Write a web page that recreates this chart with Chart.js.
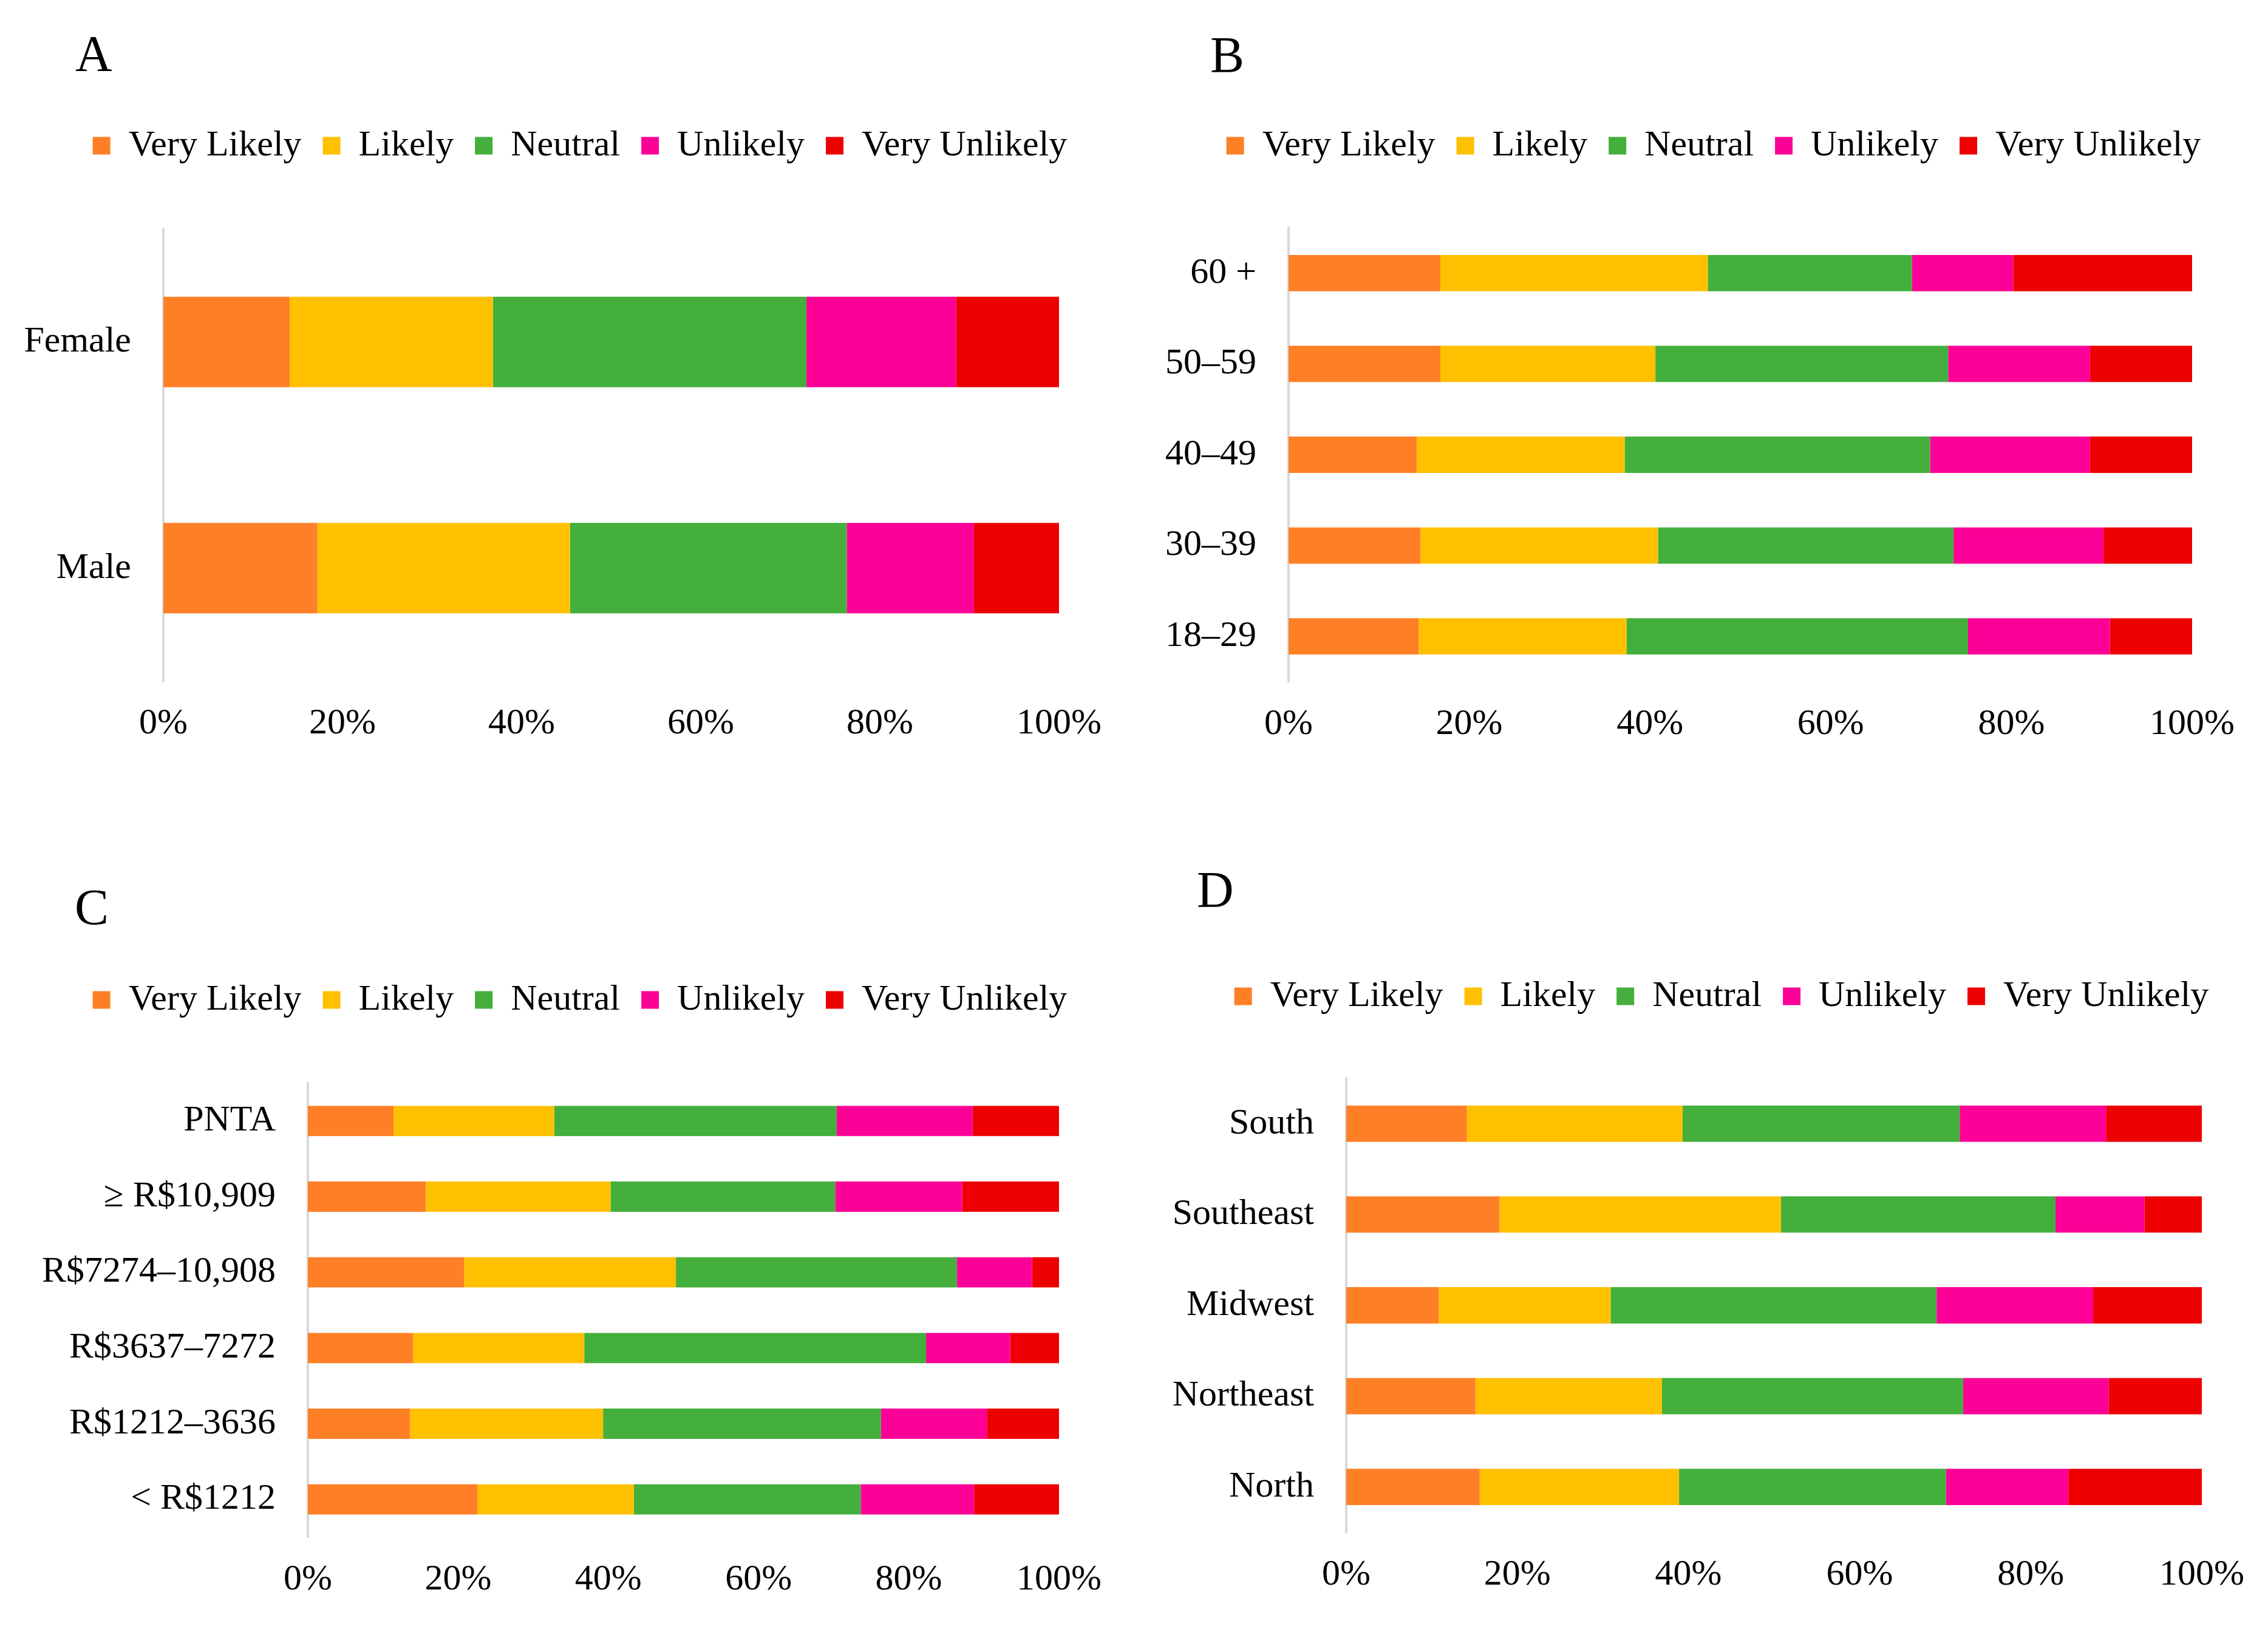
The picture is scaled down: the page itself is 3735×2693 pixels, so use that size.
<!DOCTYPE html>
<html>
<head>
<meta charset="utf-8">
<title>Likelihood by group</title>
<script src="https://cdn.jsdelivr.net/npm/chart.js@4.4.0/dist/chart.umd.min.js"></script>
<style>
  html, body { margin: 0; padding: 0; background: #fff; }
  #page { position: relative; width: 3735px; height: 2693px; overflow: hidden; background: #fff; }
  .panel { position: absolute; }
  .letter {
    position: absolute;
    font-family: "Liberation Serif", "Times New Roman", serif;
    font-size: 84px;
    line-height: 1;
    color: #000;
  }
</style>
</head>
<body>
<div id="page">
  <div class="letter" style="left:124px; top:47px;">A</div>
  <div class="letter" style="left:1993px; top:49px;">B</div>
  <div class="letter" style="left:123px; top:1453px;">C</div>
  <div class="letter" style="left:1971px; top:1424px;">D</div>

  <div class="panel" id="wrapA"><canvas id="chartA"></canvas></div>
  <div class="panel" id="wrapB"><canvas id="chartB"></canvas></div>
  <div class="panel" id="wrapC"><canvas id="chartC"></canvas></div>
  <div class="panel" id="wrapD"><canvas id="chartD"></canvas></div>
</div>

<script>
// answer categories (legend) and their colours
const responses = ['Very Likely', 'Likely', 'Neutral', 'Unlikely', 'Very Unlikely'];
const responseColors = ['#FF7F27', '#FFC000', '#44AF3C', '#FC0097', '#EE0000'];

// x axis: 0% .. 100% in steps of 20
const xTickMin = 0;
const xTickMax = 100;
const xTickStep = 20;

// A - sex
const sexLabels = ['Female', 'Male'];
const sexVeryLikely = [14.1, 17.2];
const sexLikely = [22.7, 28.2];
const sexNeutral = [35.0, 30.9];
const sexUnlikely = [16.7, 14.2];
const sexVeryUnlikely = [11.5, 9.5];

// B - age
const ageLabels = ['60 +', '50–59', '40–49', '30–39', '18–29'];
const ageVeryLikely = [16.8, 16.8, 14.2, 14.6, 14.4];
const ageLikely = [29.6, 23.8, 23.0, 26.3, 23.0];
const ageNeutral = [22.6, 32.4, 33.8, 32.7, 37.8];
const ageUnlikely = [11.2, 15.7, 17.7, 16.6, 15.7];
const ageVeryUnlikely = [19.8, 11.3, 11.3, 9.8, 9.1];

// C - income
const incomeLabels = ['PNTA', '≥ R$10,909', 'R$7274–10,908', 'R$3637–7272', 'R$1212–3636', '< R$1212'];
const incomeVeryLikely = [11.4, 15.7, 20.8, 14.0, 13.6, 22.6];
const incomeLikely = [21.4, 24.6, 28.2, 22.8, 25.7, 20.8];
const incomeNeutral = [37.6, 29.9, 37.4, 45.5, 37.0, 30.2];
const incomeUnlikely = [18.1, 16.9, 10.0, 11.2, 14.1, 15.1];
const incomeVeryUnlikely = [11.5, 12.9, 3.6, 6.5, 9.6, 11.3];

// D - region
const regionLabels = ['South', 'Southeast', 'Midwest', 'Northeast', 'North'];
const regionVeryLikely = [14.1, 17.9, 10.8, 15.1, 15.6];
const regionLikely = [25.2, 32.9, 20.1, 21.8, 23.3];
const regionNeutral = [32.4, 32.1, 38.1, 35.2, 31.2];
const regionUnlikely = [17.1, 10.4, 18.3, 17.0, 14.3];
const regionVeryUnlikely = [11.2, 6.7, 12.7, 10.9, 15.6];

const FAMILY = '"Liberation Serif", "Times New Roman", serif';
const FONT = 60;
const LEGEND_PAD = 35;
const X_AXIS_H = 106;

Chart.defaults.font.family = FAMILY;
Chart.defaults.font.size = FONT;
Chart.defaults.color = '#000';

// pushes the chart area down below the legend
function legendGap(gap) {
    return {
        id: 'legendGap',
        beforeInit(chart) {
            const legend = chart.legend;
            const fit = legend.fit;
            legend.fit = function () {
                fit.call(this);
                this.height += gap;
            };
        }
    };
}

// box is in page pixels: x0/y0/h = canvas origin and height,
// left/right/top/bottom = plot area, legendX/legendY = legend centre
function makeChart(id, labels, series, box) {
    const wrap = document.getElementById('wrap' + id);
    const W = 2 * (box.legendX - box.x0);
    const H = box.h;
    wrap.style.left = box.x0 + 'px';
    wrap.style.top = box.y0 + 'px';
    wrap.style.width = W + 'px';
    wrap.style.height = H + 'px';

    const left = box.left - box.x0;
    const right = box.right - box.x0;
    const top = box.top - box.y0;
    const bottom = box.bottom - box.y0;
    const padTop = box.legendY - box.y0 - LEGEND_PAD - FONT / 2;
    const padBottom = H - bottom - X_AXIS_H;
    const gap = top - padTop - (FONT + LEGEND_PAD + 10);

    return new Chart(document.getElementById('chart' + id).getContext('2d'), {
        type: 'bar',
        data: {
            labels: labels,
            datasets: responses.map((name, i) => ({
                label: name,
                data: series[i],
                backgroundColor: responseColors[i],
                borderWidth: 0,
                barPercentage: 0.4,
                categoryPercentage: 1.0,
            }))
        },
        options: {
            indexAxis: 'y',
            responsive: true,
            maintainAspectRatio: false,
            animation: false,
            devicePixelRatio: 1,
            layout: {
                padding: { left: 0, right: 0, top: padTop, bottom: padBottom }
            },
            scales: {
                x: {
                    stacked: true,
                    min: xTickMin,
                    max: xTickMax,
                    grid: { display: false, drawTicks: false },
                    border: { display: false },
                    ticks: {
                        stepSize: xTickStep,
                        padding: 34,
                        maxRotation: 0,
                        callback: v => v + '%',
                    },
                    afterFit(scale) {
                        scale.height = X_AXIS_H;
                        scale.paddingLeft = 0;
                        scale.paddingRight = W - right;
                        scale.paddingTop = 0;
                        scale.paddingBottom = 0;
                    }
                },
                y: {
                    stacked: true,
                    grid: { display: false, drawTicks: false },
                    border: { display: true, color: '#D9D9D9', width: 4 },
                    ticks: { padding: 53, autoSkip: false },
                    afterFit(scale) {
                        scale.width = left;
                        scale.paddingTop = 0;
                        scale.paddingBottom = 0;
                        scale.paddingLeft = 0;
                        scale.paddingRight = 0;
                    }
                }
            },
            plugins: {
                tooltip: { enabled: false },
                legend: {
                    position: 'top',
                    labels: {
                        boxWidth: 29,
                        boxHeight: 29,
                        padding: LEGEND_PAD,
                        color: '#000',
                        font: { family: FAMILY, size: FONT },
                    }
                }
            }
        },
        plugins: [legendGap(gap)]
    });
}

function drawAll() {
    makeChart('A', sexLabels,
        [sexVeryLikely, sexLikely, sexNeutral, sexUnlikely, sexVeryUnlikely],
        { x0: 0, y0: 0, h: 1346, left: 269, right: 1744, top: 377, bottom: 1122, legendX: 955, legendY: 240 });

    makeChart('B', ageLabels,
        [ageVeryLikely, ageLikely, ageNeutral, ageUnlikely, ageVeryUnlikely],
        { x0: 1867, y0: 0, h: 1346, left: 2122, right: 3610, top: 375, bottom: 1123, legendX: 2822, legendY: 240 });

    makeChart('C', incomeLabels,
        [incomeVeryLikely, incomeLikely, incomeNeutral, incomeUnlikely, incomeVeryUnlikely],
        { x0: 0, y0: 1346, h: 1347, left: 507, right: 1744, top: 1784, bottom: 2532, legendX: 955, legendY: 1647 });

    makeChart('D', regionLabels,
        [regionVeryLikely, regionLikely, regionNeutral, regionUnlikely, regionVeryUnlikely],
        { x0: 1867, y0: 1346, h: 1347, left: 2217, right: 3626, top: 1776, bottom: 2524, legendX: 2835, legendY: 1641 });
}

document.fonts.load('60px "Liberation Serif"').then(drawAll, drawAll);
</script>
</body>
</html>
